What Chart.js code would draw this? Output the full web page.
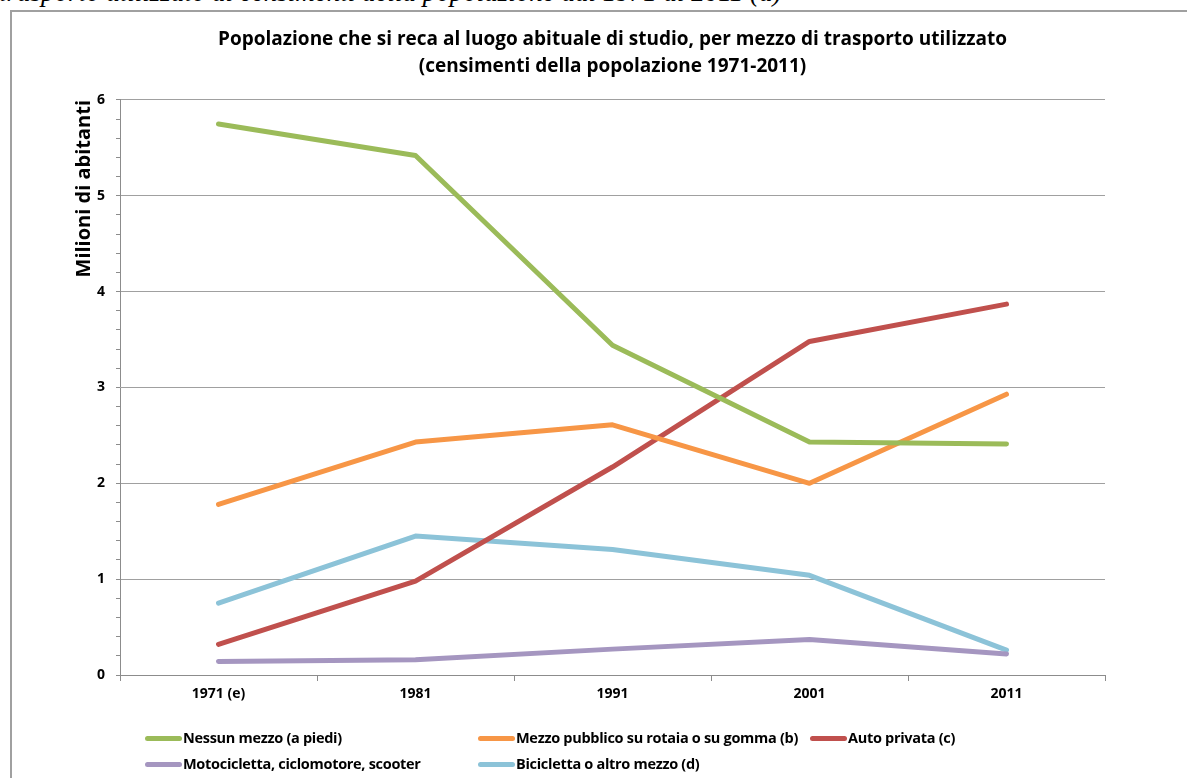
<!DOCTYPE html>
<html>
<head>
<meta charset="utf-8">
<script src="https://cdn.jsdelivr.net/npm/chart.js@4"></script>
<style>
  body { margin: 0; width: 1187px; height: 778px; overflow: hidden; background: #fff; position: relative; font-family: "Open Sans", sans-serif; }
  #caption { position: absolute; left: -1px; top: -21px; font: italic 27px/27px "Liberation Serif", serif; color: #000; white-space: nowrap; }
  #frame { position: absolute; left: 10px; top: 10px; width: 1200px; height: 800px; border: 2px solid #a0a0a0; }
  #wrap { position: absolute; left: 0; top: 0; width: 1187px; height: 778px; }
  .leg { position: absolute; font: bold 14.5px/20px "Open Sans", sans-serif; color: #000; white-space: nowrap; letter-spacing: -0.3px; }
  .leg i { display: inline-block; width: 37px; height: 5px; border-radius: 3px; vertical-align: middle; margin-right: 1px; position: relative; top: -1px; }
</style>
</head>
<body>
<div id="caption">trasporto utilizzato ai censimenti della popolazione dal 1971 al 2011 (a)</div>
<div id="frame"></div>
<div id="wrap"><canvas id="chart" width="1187" height="778"></canvas></div>
<div id="legend"></div>
<script>
var censusYears = ['1971 (e)', '1981', '1991', '2001', '2011'];
var aPiedi = [5.75, 5.42, 3.44, 2.43, 2.41];
var mezzoPubblico = [1.78, 2.43, 2.61, 2.00, 2.93];
var autoPrivata = [0.32, 0.98, 2.17, 3.48, 3.87];
var motocicletta = [0.14, 0.16, 0.27, 0.37, 0.22];
var bicicletta = [0.75, 1.45, 1.31, 1.04, 0.26];

var seriesNames = ['Nessun mezzo (a piedi)', 'Mezzo pubblico su rotaia o su gomma (b)', 'Auto privata (c)', 'Motocicletta, ciclomotore, scooter', 'Bicicletta o altro mezzo (d)'];
var seriesColors = ['#9bbb59', '#f79646', '#c0504d', '#a596c0', '#8cc3d8'];
var seriesValues = [aPiedi, mezzoPubblico, autoPrivata, motocicletta, bicicletta];

var ctx = document.getElementById('chart').getContext('2d');

var datasets = seriesValues.map(function(values, i) {
    return {
        label: seriesNames[i],
        data: values,
        borderColor: seriesColors[i],
        backgroundColor: seriesColors[i],
        borderWidth: 5,
        borderCapStyle: 'round',
        borderJoinStyle: 'round',
        pointRadius: 0,
        tension: 0
    };
});

// plot area in the reference: x 120..1105, y 100..675
var chart = new Chart(ctx, {
    type: 'line',
    data: { labels: censusYears, datasets: datasets },
    options: {
        responsive: false,
        animation: false,
        layout: { padding: { left: 0, right: 82, top: 0, bottom: 60 } },
        plugins: {
            legend: { display: false },
            tooltip: { enabled: false },
            title: {
                display: true,
                fullSize: false,
                text: ['Popolazione che si reca al luogo abituale di studio, per mezzo di trasporto utilizzato', '(censimenti della popolazione 1971-2011)'],
                color: '#000',
                font: { family: 'Open Sans', size: 19, weight: 'bold', lineHeight: 1.42 },
                padding: { top: 26.5, bottom: 19.5 }
            }
        },
        scales: {
            x: {
                offset: true,
                grid: { offset: true, drawOnChartArea: false, drawTicks: true, tickLength: 6, color: '#8c8c8c' },
                border: { color: '#8c8c8c', width: 1 },
                ticks: { color: '#000', font: { family: 'Open Sans', size: 14, weight: 'bold' }, padding: 5, maxRotation: 0 },
                afterFit: function(scale) { scale.height = 43; }
            },
            y: {
                min: 0,
                max: 6,
                grid: {
                    color: function(c) {
                        var v = c.tick ? c.tick.value : 0;
                        return Math.abs(v - Math.round(v)) < 1e-6 ? '#a0a0a0' : 'rgba(0,0,0,0)';
                    },
                    tickColor: '#8c8c8c',
                    tickLength: 4,
                    drawTicks: true
                },
                border: { color: '#8c8c8c', width: 1 },
                ticks: {
                    stepSize: 0.2,
                    autoSkip: false,
                    color: '#000',
                    padding: 11,
                    font: { family: 'Open Sans', size: 14, weight: 'bold' },
                    callback: function(value) {
                        return Math.abs(value - Math.round(value)) < 1e-6 ? Math.round(value) : '';
                    }
                },
                title: {
                    display: true,
                    text: 'Milioni di abitanti',
                    align: 'end',
                    color: '#000',
                    font: { family: 'Open Sans', size: 20, weight: 'bold', lineHeight: 1.2 },
                    padding: { top: 72, bottom: 0 }
                },
                afterFit: function(scale) { scale.width = 120; }
            }
        }
    }
});

// legend below the plot, laid out like the original (3 columns, 2 rows)
var legendCols = [145, 478, 810];
var legendRows = [728, 754];
var legendBox = document.getElementById('legend');
seriesNames.forEach(function(name, i) {
    var item = document.createElement('div');
    item.className = 'leg';
    item.style.left = legendCols[i % 3] + 'px';
    item.style.top = legendRows[Math.floor(i / 3)] + 'px';
    item.innerHTML = '<i style="background:' + seriesColors[i] + '"></i>' + name;
    legendBox.appendChild(item);
});
</script>
</body>
</html>
